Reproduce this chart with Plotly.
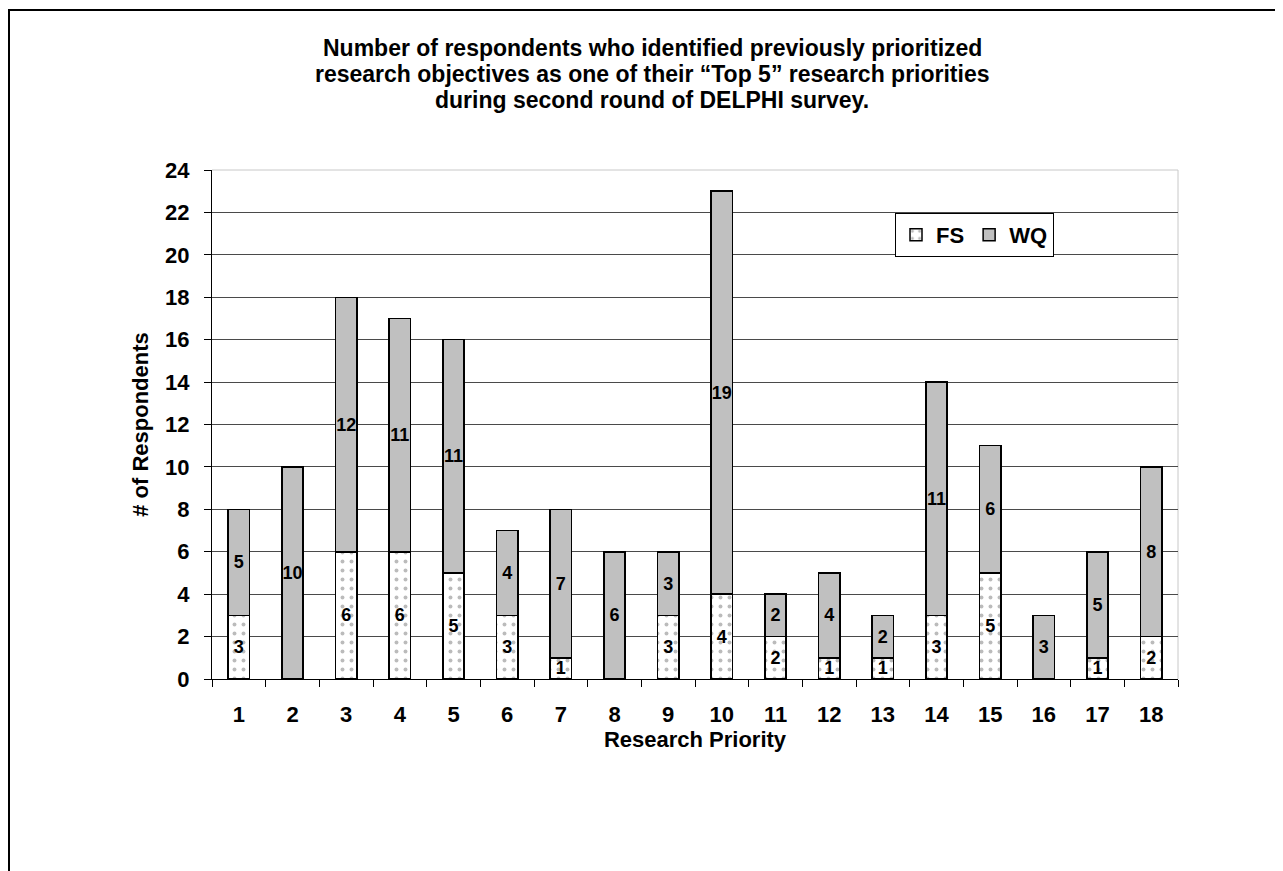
import plotly.graph_objects as go

categories = [str(i) for i in range(1, 19)]
fs_values = [3, 0, 6, 6, 5, 3, 1, 0, 3, 4, 2, 1, 1, 3, 5, 0, 1, 2]
wq_values = [5, 10, 12, 11, 11, 4, 7, 6, 3, 19, 2, 4, 2, 11, 6, 3, 5, 8]
y_ticks = list(range(0, 25, 2))

title_lines = ["Number of respondents who identified previously prioritized",
               "research objectives as one of their \u201cTop 5\u201d research priorities",
               "during second round of DELPHI survey."]

FONT = "Arial, Liberation Sans, sans-serif"

def labels(vals):
    return [str(v) if v else "" for v in vals]

fig = go.Figure()
fig.add_trace(go.Bar(
    x=categories, y=fs_values, name="FS",
    text=labels(fs_values), textposition="inside", insidetextanchor="middle",
    textangle=0, textfont=dict(size=18, color="black", family=FONT, weight="bold"),
    marker=dict(color="white", line=dict(color="black", width=1.5),
                pattern=dict(shape=".", fgcolor="#777777", bgcolor="white", size=9, solidity=0.15)),
))
fig.add_trace(go.Bar(
    x=categories, y=wq_values, name="WQ",
    text=labels(wq_values), textposition="inside", insidetextanchor="middle",
    textangle=0, textfont=dict(size=18, color="black", family=FONT, weight="bold"),
    marker=dict(color="#C0C0C0", line=dict(color="black", width=1.5)),
))

# page is offset by the 8px body margin
OFF = 8
W, H = 1283 - OFF, 871 - OFF
L, R, T, B = 212 - OFF, 1178 - OFF, 170 - OFF, 679 - OFF
pw, ph = R - L, B - T

def px_x(x):
    return (x - OFF - L) / pw

def px_y(y):
    return (B - (y - OFF)) / ph

annotations = []
for i, line in enumerate(title_lines):
    annotations.append(dict(
        text=line, xref="paper", yref="paper", x=px_x(652), y=px_y(48 + 26 * i),
        xanchor="center", yanchor="middle", showarrow=False, align="center",
        font=dict(size=23, family=FONT, weight="bold", color="black"),
    ))

fig.update_layout(
    width=W, height=H,
    barmode="stack", bargap=0.6,
    plot_bgcolor="white", paper_bgcolor="white",
    margin=dict(l=L, r=W - R, t=T, b=H - B, pad=0),
    font=dict(family=FONT, color="black"),
    uniformtext=dict(mode="show", minsize=18),
    showlegend=True,
    legend=dict(orientation="h", x=px_x(895), y=px_y(213), xanchor="left", yanchor="top",
                bgcolor="white", bordercolor="black", borderwidth=1,
                font=dict(size=22, family=FONT, weight="bold"),
                traceorder="normal", itemwidth=30),
    xaxis=dict(
        type="category", showgrid=False, showline=True, linecolor="black", linewidth=1,
        ticks="outside", tickson="boundaries", ticklen=7, tickcolor="black",
        ticklabelstandoff=16,
        tickfont=dict(size=22, family=FONT, weight="bold"),
        title=dict(text="Research Priority", font=dict(size=22, family=FONT, weight="bold"), standoff=4),
    ),
    yaxis=dict(
        range=[0, 24], tickvals=y_ticks, showgrid=True, gridcolor="#4a4a4a", gridwidth=1,
        showline=True, linecolor="black", linewidth=1, zeroline=False,
        ticks="outside", ticklen=7, tickcolor="black",
        ticklabelstandoff=10,
        tickfont=dict(size=22, family=FONT, weight="bold"),
        title=dict(text="# of Respondents", font=dict(size=22, family=FONT, weight="bold"), standoff=10),
    ),
    annotations=annotations,
    shapes=[
        dict(type="line", xref="paper", yref="paper", x0=0, x1=1, y0=1, y1=1,
             line=dict(color="#c8c8c8", width=1), layer="below"),
        dict(type="line", xref="paper", yref="paper", x0=1, x1=1, y0=0, y1=1,
             line=dict(color="#c8c8c8", width=1), layer="below"),
        dict(type="line", xref="paper", yref="paper", x0=px_x(8), x1=px_x(1300), y0=px_y(10), y1=px_y(10),
             line=dict(color="black", width=2)),
        dict(type="line", xref="paper", yref="paper", x0=px_x(9), x1=px_x(9), y0=px_y(10), y1=px_y(900),
             line=dict(color="black", width=2)),
    ],
)

fig.write_html("out.html")
